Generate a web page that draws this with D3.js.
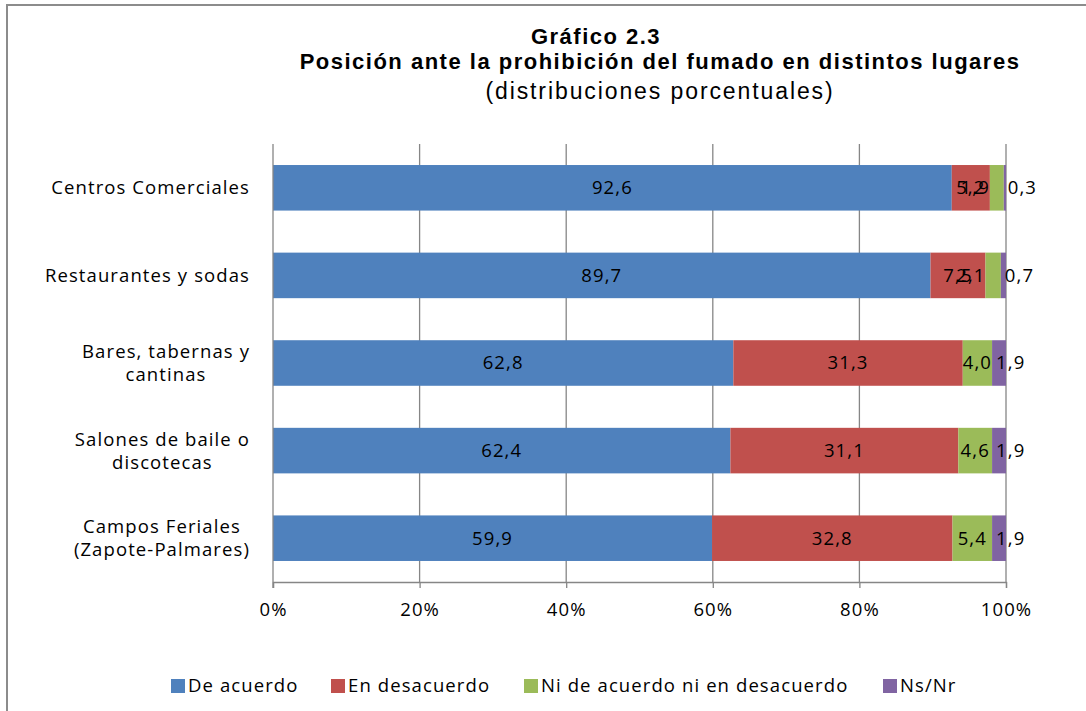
<!DOCTYPE html>
<html>
<head>
<meta charset="utf-8">
<script src="https://cdn.jsdelivr.net/npm/d3@7"></script>
<style>
  body { margin: 0; background: #fff; }
  svg { font-family: "Open Sans", sans-serif; letter-spacing: 1.1px; }
  .title { font-family: "Liberation Sans", Arial, sans-serif; }
</style>
</head>
<body>
<svg width="1086" height="711"></svg>
<script>
// categories, top to bottom
const categories = [
  ["Centros Comerciales"],
  ["Restaurantes y sodas"],
  ["Bares, tabernas y", "cantinas"],
  ["Salones de baile o", "discotecas"],
  ["Campos Feriales", "(Zapote-Palmares)"]
];
const seriesNames = ["De acuerdo", "En desacuerdo", "Ni de acuerdo ni en desacuerdo", "Ns/Nr"];
const seriesColors = ["#4F81BD", "#C0504D", "#9BBB59", "#8064A2"];
const deAcuerdo = [92.6, 89.7, 62.8, 62.4, 59.9];
const enDesacuerdo = [5.2, 7.5, 31.3, 31.1, 32.8];
const niNi = [1.9, 2.1, 4.0, 4.6, 5.4];
const nsNr = [0.3, 0.7, 1.9, 1.9, 1.9];
const xTicks = [0, 20, 40, 60, 80, 100];

function drawChart() {
  let svg = d3.select("svg"),
    margin = { top: 144, left: 273 },
    plotW = 733, plotH = 438,
    fs = "18.5px";

  // outer frame
  svg.append("rect")
    .attr("x", 7).attr("y", 5)
    .attr("width", 1100).attr("height", 720)
    .attr("fill", "none").attr("stroke", "#8c8c8c").attr("stroke-width", 2);

  // titles
  svg.append("text").attr("class", "title").attr("x", 596).attr("y", 44)
    .attr("text-anchor", "middle").style("font-size", "22px").style("font-weight", "bold")
    .style("letter-spacing", "1.5px")
    .text("Gráfico 2.3");
  svg.append("text").attr("class", "title").attr("x", 660).attr("y", 69)
    .attr("text-anchor", "middle").style("font-size", "22px").style("font-weight", "bold")
    .style("letter-spacing", "1.5px")
    .text("Posición ante la prohibición del fumado en distintos lugares");
  svg.append("text").attr("class", "title").attr("x", 660).attr("y", 99)
    .attr("text-anchor", "middle").style("font-size", "23px")
    .style("letter-spacing", "1.9px")
    .text("(distribuciones porcentuales)");

  let g = svg.append("g").attr("transform", "translate(" + margin.left + "," + margin.top + ")");

  let x = d3.scaleLinear().domain([0, 100]).range([0, plotW]);
  let y = d3.scaleBand().domain(d3.range(categories.length)).range([0, plotH])
    .paddingInner(0.48).paddingOuter(0.24);

  let rows = categories.map((c, i) => ({
    idx: i,
    "De acuerdo": deAcuerdo[i],
    "En desacuerdo": enDesacuerdo[i],
    "Ni de acuerdo ni en desacuerdo": niNi[i],
    "Ns/Nr": nsNr[i]
  }));
  let stacked = d3.stack().keys(seriesNames)(rows);

  // gridlines
  g.selectAll(".grid").data(xTicks.slice(1)).enter().append("line")
    .attr("x1", d => x(d)).attr("x2", d => x(d))
    .attr("y1", 0).attr("y2", plotH)
    .attr("stroke", "#868686").attr("stroke-width", 1.3);

  // bars
  let layer = g.selectAll(".layer").data(stacked).enter().append("g")
    .attr("fill", (d, i) => seriesColors[i]);
  layer.selectAll("rect").data(d => d).enter().append("rect")
    .attr("x", d => x(d[0]))
    .attr("y", d => y(d.data.idx))
    .attr("width", d => x(d[1]) - x(d[0]))
    .attr("height", y.bandwidth());

  // value labels (narrow segments: Ns/Nr goes to the right, others end at segment start)
  stacked.forEach((s, si) => {
    g.selectAll(".lbl" + si).data(s).enter().append("text")
      .style("font-size", fs).attr("fill", "#000")
      .attr("y", d => y(d.data.idx) + y.bandwidth() / 2)
      .attr("dy", "0.35em")
      .text(d => d3.format(".1f")(d[1] - d[0]).replace(".", ","))
      .each(function (d) {
        let t = d3.select(this), w = this.getComputedTextLength(), segW = x(d[1]) - x(d[0]);
        if (si === 3) t.attr("x", x(d[0]) + 4).attr("text-anchor", "start");
        else if (w > segW) t.attr("x", x(d[0])).attr("text-anchor", "end");
        else t.attr("x", x((d[0] + d[1]) / 2)).attr("text-anchor", "middle");
      });
  });

  // x axis
  let xAxis = g.append("g").attr("transform", "translate(0," + plotH + ")")
    .call(d3.axisBottom(x).tickValues(xTicks).tickSize(6).tickPadding(15).tickFormat(d => d + "%"));
  xAxis.select(".domain").attr("stroke", "#868686").attr("stroke-width", 1.3);
  xAxis.selectAll(".tick line").attr("stroke", "#868686").attr("stroke-width", 1.3);
  xAxis.selectAll(".tick text").style("font-size", fs).style("font-family", "'Open Sans', sans-serif").attr("fill", "#000");

  // y axis line
  g.append("line").attr("x1", 0).attr("x2", 0).attr("y1", 0).attr("y2", plotH + 6)
    .attr("stroke", "#868686").attr("stroke-width", 1.3);

  // category labels
  categories.forEach((lines, i) => {
    let cy = margin.top + y(i) + y.bandwidth() / 2;
    let t = svg.append("text").style("font-size", fs).attr("text-anchor", "middle");
    let spans = lines.map(l => t.append("tspan").text(l));
    let maxW = d3.max(spans, s => s.node().getComputedTextLength());
    let cx = 250 - maxW / 2;
    let startY = cy - (lines.length - 1) * 11.5;
    spans.forEach((s, k) => s.attr("x", cx).attr("y", startY + k * 23).attr("dy", "0.35em"));
  });

  // legend
  let legendX = [171, 331, 524, 883];
  seriesNames.forEach((n, i) => {
    svg.append("rect").attr("x", legendX[i]).attr("y", 679)
      .attr("width", 14).attr("height", 14).attr("fill", seriesColors[i]);
    svg.append("text").attr("x", legendX[i] + 17).attr("y", 686).attr("dy", "0.35em")
      .style("font-size", fs).text(n);
  });
}
drawChart();
</script>
</body>
</html>
